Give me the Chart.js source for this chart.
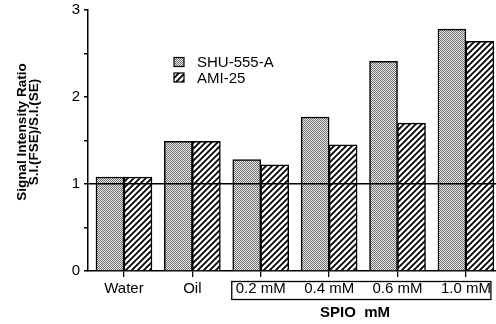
<!DOCTYPE html>
<html>
<head>
<meta charset="utf-8">
<script src="https://cdn.jsdelivr.net/npm/chart.js@4"></script>
<style>
  html, body { margin: 0; padding: 0; background: #fff; overflow: hidden; }
</style>
</head>
<body>
<canvas id="chart" width="496" height="324"></canvas>
<script>
const categories = ["Water", "Oil", "0.2 mM", "0.4 mM", "0.6 mM", "1.0 mM"];
const shuValues = [1.08, 1.49, 1.28, 1.77, 2.41, 2.78];
const amiValues = [1.08, 1.49, 1.22, 1.45, 1.70, 2.64];
const yTicks = [0, 1, 2, 3];

const FONT = "'Liberation Sans', Arial, Helvetica, sans-serif";

// fill patterns: fine stipple and diagonal hatch
function stipple() {
    const c = document.createElement("canvas");
    c.width = 2; c.height = 2;
    const g = c.getContext("2d");
    g.fillStyle = "#ececec";
    g.fillRect(0, 0, 2, 2);
    g.fillStyle = "#6e6e6e";
    g.fillRect(0, 0, 1, 1);
    g.fillRect(1, 1, 1, 1);
    return g.createPattern(c, "repeat");
}

function hatch() {
    const s = 6;
    const c = document.createElement("canvas");
    c.width = s; c.height = s;
    const g = c.getContext("2d");
    g.fillStyle = "#fff";
    g.fillRect(0, 0, s, s);
    g.strokeStyle = "#000";
    g.lineWidth = 1.8;
    g.beginPath();
    g.moveTo(0, s); g.lineTo(s, 0);
    g.moveTo(-1, 1); g.lineTo(1, -1);
    g.moveTo(s - 1, s + 1); g.lineTo(s + 1, s - 1);
    g.stroke();
    return g.createPattern(c, "repeat");
}

const shuFill = stipple();
const amiFill = hatch();

// legend, y title, x title and the box round the mM labels
const extras = {
    id: "extras",
    afterDraw(chart) {
        const ctx = chart.ctx;
        const x = chart.scales.x;
        const area = chart.chartArea;
        ctx.save();

        // legend
        const items = [["SHU-555-A", shuFill, 62], ["AMI-25", amiFill, 77.5]];
        items.forEach(([name, fill, yc]) => {
            ctx.fillStyle = fill;
            ctx.fillRect(174, yc - 4.5, 10, 9);
            ctx.strokeStyle = "#000";
            ctx.lineWidth = 1.2;
            ctx.strokeRect(174, yc - 4.5, 10, 9);
            ctx.fillStyle = "#000";
            ctx.font = "15px " + FONT;
            ctx.textAlign = "left";
            ctx.textBaseline = "middle";
            ctx.fillText(name, 197, yc + 1);
        });

        // y title, two lines
        ctx.fillStyle = "#000";
        ctx.font = "bold 13.5px " + FONT;
        ctx.textAlign = "center";
        ctx.textBaseline = "middle";
        [["Signal Intensity Ratio", 22], ["S.I.(FSE)/S.I.(SE)", 34]].forEach(([t, xc]) => {
            ctx.save();
            ctx.translate(xc, 132);
            ctx.rotate(-Math.PI / 2);
            ctx.fillText(t, 0, 0);
            ctx.restore();
        });

        // box round the SPIO concentrations
        const bl = x.getPixelForValue(2) - 29;
        const br = x.getPixelForValue(5) + 25;
        ctx.strokeStyle = "#000";
        ctx.lineWidth = 1.3;
        ctx.strokeRect(bl, area.bottom + 10.5, br - bl, 18);

        // x title
        ctx.font = "bold 15px " + FONT;
        ctx.textAlign = "center";
        ctx.fillText("SPIO  mM", 355, 313);
        ctx.restore();
    }
};

new Chart(document.getElementById("chart"), {
    type: "bar",
    data: {
        datasets: [
            {
                label: "SHU-555-A",
                data: shuValues.map((v, i) => ({ x: i, y: v })),
                backgroundColor: shuFill,
                borderColor: "#000",
                borderWidth: 1.5,
                barThickness: 28
            },
            {
                label: "AMI-25",
                data: amiValues.map((v, i) => ({ x: i, y: v })),
                backgroundColor: amiFill,
                borderColor: "#000",
                borderWidth: 1.5,
                barThickness: 28
            }
        ]
    },
    options: {
        responsive: false,
        animation: false,
        devicePixelRatio: 1,
        layout: { padding: { top: 10, right: 0, bottom: 0, left: 0 } },
        plugins: {
            legend: { display: false },
            tooltip: { enabled: false }
        },
        scales: {
            x: {
                type: "linear",
                offset: false,
                min: -0.526,
                max: 5.44,
                afterBuildTicks: scale => {
                    scale.ticks = categories.map((c, i) => ({ value: i }));
                },
                afterFit: scale => { scale.height = 53; },
                ticks: {
                    autoSkip: false,
                    maxRotation: 0,
                    color: "#000",
                    padding: 3,
                    font: { family: FONT, size: 15 },
                    callback: v => categories[v]
                },
                grid: {
                    offset: false,
                    drawOnChartArea: false,
                    drawTicks: true,
                    tickLength: 6,
                    color: "#000",
                    lineWidth: 1.3
                },
                border: { display: true, color: "#000", width: 1.5 }
            },
            y: {
                min: 0,
                max: 3,
                afterFit: scale => {
                    scale.width = 88;
                    scale.paddingTop = 0;
                    scale.paddingBottom = 0;
                },
                ticks: {
                    stepSize: 0.5,
                    color: "#000",
                    padding: 4,
                    font: { family: FONT, size: 15 },
                    callback: v => yTicks.includes(v) ? v : ""
                },
                grid: {
                    z: 1,
                    tickLength: 4,
                    lineWidth: 1.5,
                    color: c => c.tick && c.tick.value === 1 ? "#000" : "rgba(0,0,0,0)",
                    tickColor: "#000"
                },
                border: { display: true, color: "#000", width: 1.5, z: 1 }
            }
        }
    },
    plugins: [extras]
});
</script>
</body>
</html>
